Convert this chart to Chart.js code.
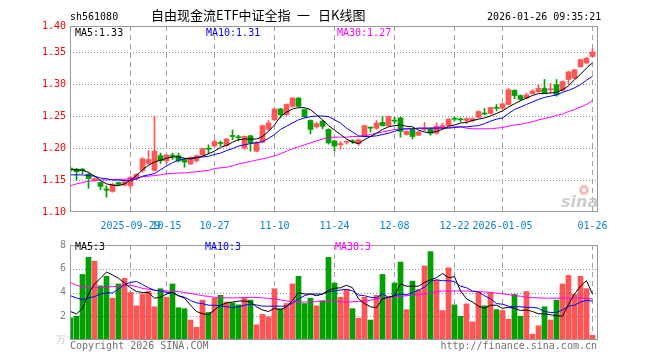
<!DOCTYPE html>
<html><head><meta charset="utf-8">
<script src="https://cdn.jsdelivr.net/npm/chart.js@4.4.1/dist/chart.umd.min.js"></script>
<style>
html,body{margin:0;padding:0;background:#fff;}
#wrap{position:relative;width:660px;height:360px;overflow:hidden;background:#fff;}
canvas{position:absolute;left:0;}
#c1{top:0;}
#c2{top:235px;}
.t{position:absolute;white-space:pre;font-family:"DejaVu Sans Mono",monospace;font-size:10px;line-height:12px;z-index:2;}
.cn{font-family:"Noto Sans CJK SC","Noto Sans",sans-serif;font-size:13px;line-height:16px;color:#000;}
</style></head><body>
<div id="wrap">
<canvas id="c1" width="660" height="235"></canvas>
<canvas id="c2" width="660" height="125"></canvas>
<div class="t" style="left:70px;top:11px;color:#000">sh561080</div>
<div class="t cn" style="left:151px;top:7px;">自由现金流ETF中证全指</div>
<div class="t cn" style="left:297px;top:7px;">一</div>
<div class="t cn" style="left:318px;top:7px;">日K线图</div>
<div class="t" style="left:487px;top:11px;color:#000">2026-01-26 09:35:21</div>
<div class="t" style="left:75px;top:27px;color:#000">MA5:1.33</div>
<div class="t" style="left:206px;top:27px;color:#0000ff">MA10:1.31</div>
<div class="t" style="left:337px;top:27px;color:#ff00ff">MA30:1.27</div>
<div class="t" style="left:75px;top:241px;color:#000">MA5:3</div>
<div class="t" style="left:205px;top:241px;color:#0000ff">MA10:3</div>
<div class="t" style="left:335px;top:241px;color:#ff00ff">MA30:3</div>
<div class="t" style="left:70px;top:340px;color:#707070">Copyright 2026 SINA.COM</div>
<div class="t" style="right:63px;top:340px;color:#707070">http://finance.sina.com.cn</div>
</div>
<script>
// ---- data ----
const open  = [1.168,1.167,1.167,1.159,1.150,1.146,1.136,1.132,1.146,1.142,1.141,1.152,1.165,1.176,1.165,1.188,1.180,1.189,1.188,1.182,1.175,1.180,1.189,1.199,1.203,1.208,1.204,1.219,1.217,1.200,1.219,1.195,1.209,1.229,1.244,1.261,1.252,1.265,1.278,1.260,1.243,1.233,1.242,1.229,1.211,1.205,1.209,1.211,1.207,1.218,1.232,1.231,1.240,1.235,1.243,1.247,1.221,1.229,1.220,1.229,1.230,1.223,1.231,1.235,1.246,1.245,1.243,1.243,1.248,1.254,1.254,1.263,1.262,1.268,1.290,1.282,1.278,1.285,1.288,1.293,1.291,1.299,1.290,1.307,1.309,1.327,1.333,1.343];
const high  = [1.169,1.168,1.168,1.161,1.153,1.147,1.141,1.145,1.147,1.149,1.156,1.160,1.185,1.196,1.250,1.192,1.190,1.192,1.192,1.184,1.186,1.189,1.200,1.205,1.213,1.211,1.215,1.228,1.220,1.219,1.220,1.210,1.236,1.243,1.262,1.262,1.269,1.279,1.279,1.261,1.244,1.240,1.243,1.230,1.212,1.210,1.211,1.213,1.214,1.236,1.233,1.243,1.249,1.250,1.248,1.248,1.227,1.230,1.226,1.240,1.231,1.239,1.239,1.246,1.249,1.247,1.247,1.247,1.258,1.262,1.264,1.268,1.270,1.293,1.291,1.283,1.286,1.291,1.299,1.307,1.301,1.307,1.305,1.320,1.323,1.339,1.342,1.355];
const low   = [1.162,1.150,1.160,1.137,1.148,1.135,1.123,1.131,1.142,1.141,1.137,1.150,1.162,1.174,1.164,1.176,1.176,1.182,1.178,1.170,1.174,1.178,1.188,1.191,1.202,1.203,1.203,1.213,1.211,1.198,1.195,1.194,1.208,1.228,1.243,1.247,1.251,1.264,1.264,1.247,1.222,1.231,1.230,1.206,1.195,1.198,1.206,1.207,1.204,1.217,1.225,1.229,1.234,1.234,1.238,1.217,1.220,1.214,1.219,1.227,1.220,1.222,1.230,1.234,1.242,1.241,1.238,1.241,1.247,1.252,1.253,1.258,1.261,1.267,1.277,1.274,1.277,1.284,1.287,1.285,1.286,1.281,1.289,1.300,1.308,1.326,1.332,1.342];
const close = [1.167,1.163,1.165,1.152,1.152,1.140,1.134,1.143,1.143,1.147,1.154,1.159,1.183,1.182,1.195,1.180,1.189,1.187,1.180,1.178,1.185,1.188,1.199,1.198,1.210,1.207,1.214,1.218,1.216,1.218,1.208,1.209,1.235,1.239,1.261,1.252,1.268,1.278,1.265,1.249,1.229,1.238,1.234,1.208,1.203,1.207,1.210,1.210,1.213,1.235,1.231,1.239,1.235,1.249,1.242,1.226,1.226,1.218,1.225,1.230,1.223,1.234,1.235,1.245,1.245,1.244,1.246,1.246,1.257,1.253,1.263,1.262,1.269,1.291,1.282,1.276,1.283,1.289,1.293,1.286,1.292,1.283,1.304,1.319,1.322,1.338,1.340,1.350];
const ma5   = [1.166,1.166,1.165,1.162,1.156,1.149,1.144,1.142,1.141,1.144,1.150,1.157,1.166,1.173,1.178,1.181,1.184,1.186,1.186,1.184,1.183,1.185,1.187,1.191,1.195,1.201,1.204,1.209,1.213,1.214,1.214,1.214,1.218,1.226,1.236,1.249,1.256,1.261,1.263,1.263,1.260,1.252,1.244,1.235,1.228,1.221,1.214,1.209,1.207,1.213,1.218,1.223,1.229,1.233,1.235,1.236,1.234,1.233,1.228,1.225,1.224,1.226,1.229,1.234,1.236,1.239,1.240,1.243,1.245,1.247,1.250,1.254,1.258,1.264,1.269,1.274,1.278,1.282,1.285,1.285,1.286,1.287,1.291,1.297,1.307,1.315,1.325,1.333];
const ma10  = [1.158,1.158,1.158,1.157,1.156,1.153,1.152,1.150,1.150,1.149,1.149,1.152,1.156,1.158,1.160,1.166,1.172,1.177,1.181,1.183,1.184,1.185,1.186,1.187,1.190,1.192,1.196,1.199,1.203,1.205,1.207,1.208,1.210,1.215,1.221,1.229,1.234,1.239,1.244,1.247,1.249,1.250,1.250,1.249,1.244,1.239,1.231,1.225,1.219,1.218,1.218,1.219,1.221,1.223,1.226,1.229,1.230,1.230,1.231,1.231,1.231,1.231,1.231,1.231,1.232,1.233,1.233,1.234,1.235,1.238,1.242,1.245,1.247,1.254,1.260,1.264,1.268,1.272,1.276,1.279,1.281,1.283,1.287,1.290,1.294,1.299,1.306,1.312];
const ma30  = [1.141,1.144,1.146,1.148,1.149,1.150,1.150,1.151,1.151,1.151,1.152,1.153,1.155,1.156,1.157,1.158,1.160,1.160,1.161,1.161,1.162,1.163,1.164,1.165,1.168,1.169,1.170,1.172,1.175,1.177,1.179,1.181,1.183,1.185,1.188,1.191,1.195,1.199,1.202,1.205,1.208,1.211,1.214,1.216,1.217,1.217,1.217,1.218,1.218,1.219,1.221,1.223,1.225,1.227,1.229,1.229,1.230,1.230,1.231,1.231,1.231,1.232,1.232,1.232,1.233,1.233,1.231,1.230,1.230,1.230,1.230,1.231,1.232,1.234,1.236,1.237,1.239,1.241,1.244,1.246,1.248,1.251,1.253,1.257,1.260,1.264,1.268,1.274];
const volume = [1.87,2.0,5.52,6.96,6.64,4.56,5.36,3.52,4.72,5.2,4.0,2.88,3.87,4.1,2.8,4.32,3.6,4.72,2.72,2.64,1.68,1.07,3.36,2.32,3.52,3.76,3.2,3.12,2.96,3.52,3.36,1.28,2.16,1.95,4.32,2.64,3.07,4.72,5.36,3.07,3.52,2.88,3.3,6.96,4.8,3.6,4.27,2.64,1.84,3.6,1.68,3.76,5.52,3.52,4.8,6.56,2.56,4.96,4.24,6.24,7.44,5.04,2.48,6.08,2.96,2.0,3.04,1.52,4.0,2.88,4.0,2.56,2.48,1.76,3.84,2.0,4.08,0.48,1.2,2.8,1.68,3.36,4.72,5.44,3.84,5.36,4.32,0.4];
const vma5  = [2.4,2.2,2.67,3.87,4.72,5.2,5.73,5.47,5.2,4.8,4.4,4.08,4.0,4.0,3.52,3.6,3.87,4.0,3.73,3.52,2.93,2.4,2.21,2.13,2.53,2.93,3.12,3.2,3.28,3.28,3.2,2.8,2.53,2.4,2.67,2.53,2.8,3.33,4.0,3.87,3.87,3.73,3.87,4.2,4.35,4.4,4.61,4.4,3.47,3.07,2.8,2.72,3.47,3.6,3.73,4.72,4.53,4.53,4.53,4.85,5.07,5.25,5.6,5.25,5.33,4.13,3.47,3.2,2.85,2.67,2.93,2.93,2.67,2.75,2.67,2.48,2.53,2.4,2.21,2.21,2.13,2.05,2.0,3.01,3.87,4.53,5.0,3.87];
const vma10 = [3.73,3.55,3.39,3.55,3.65,3.87,3.97,3.97,4.27,4.67,4.85,4.93,4.67,4.4,4.19,4.13,4.0,4.0,3.73,3.6,3.33,3.12,3.07,2.93,2.93,2.88,2.8,2.75,2.8,2.93,3.01,2.95,2.85,2.85,2.85,2.85,2.85,3.12,3.47,3.73,3.87,3.87,3.87,4.08,4.13,4.21,4.27,4.13,3.79,3.73,3.6,3.55,3.87,3.6,3.73,3.87,3.8,4.0,4.19,4.45,4.93,5.07,4.99,4.99,4.93,4.53,4.4,4.13,4.05,3.73,3.47,3.07,3.01,2.85,2.8,2.8,2.75,2.75,2.67,2.4,2.32,2.32,2.53,2.85,2.93,3.2,3.33,3.28];
const vma30 = [4.85,4.61,4.45,4.4,4.4,4.4,4.45,4.5,4.53,4.57,4.61,4.5,4.35,4.27,4.19,4.16,4.13,4.1,4.08,4.0,3.92,3.83,3.73,3.67,3.6,3.57,3.55,3.55,3.55,3.57,3.6,3.58,3.55,3.5,3.47,3.38,3.28,3.24,3.2,3.2,3.2,3.24,3.28,3.28,3.3,3.2,3.2,3.22,3.25,3.28,3.35,3.47,3.52,3.6,3.64,3.68,3.73,3.78,3.82,3.87,3.95,4.08,4.13,4.13,4.13,4.13,4.12,4.1,4.08,4.05,4.0,3.95,3.9,3.82,3.75,3.68,3.6,3.57,3.55,3.52,3.52,3.52,3.52,3.53,3.55,3.55,3.5,3.47];
const tickIdx = [10,16,24,34,44,54,64,72,87];
const tickLbl = ['2025-09-29','10-15','10-27','11-10','11-24','12-08','12-22','2026-01-05','01-26'];
const priceTicks = [1.10,1.15,1.20,1.25,1.30,1.35];
const priceTickLbl = ['1.10','1.15','1.20','1.25','1.30','1.35','1.40'];
const volTicks = [0,2,4,6,8];
const volTickLbl = ['万','2','4','6','8'];

// ---- drawing ----
const RED = '#ff5555', GREEN = '#00a000';
const up = close.map((c,i)=>c>=open[i]);
const colors = up.map(u=>u?RED:GREEN);
const pts = arr => arr.map((v,i)=>({x:i,y:v}));
const xMin = -1/12, xMax = close.length - 1/12;
const FONT = {family:'DejaVu Sans Mono', size:10};

// grid painted behind the marks (destination-over) from the chart's own scales, then the frame
function makeFrame(name){
  return {
    id: name,
    afterDraw(chart){
      const ctx = chart.ctx, a = chart.chartArea;
      const xs = chart.scales.x, ys = chart.scales.y;
      ctx.save();
      ctx.globalCompositeOperation = 'destination-over';
      ctx.fillStyle = '#a0a0a0';
      for (const v of tickIdx){
        const px = Math.floor(xs.getPixelForValue(v));
        for (let yy = Math.ceil(a.top); yy < a.bottom; yy += 9){
          ctx.fillRect(px, yy, 1, Math.min(5, a.bottom - yy));
        }
      }
      ctx.fillStyle = '#8c8c8c';
      for (const t of ys.ticks){
        if (t.value <= ys.min + 1e-9 || t.value >= ys.max - 1e-9) continue;
        const py = Math.round(ys.getPixelForValue(t.value));
        for (let xx = Math.ceil(a.left); xx < a.right; xx += 3){
          ctx.fillRect(xx, py, 1, 1);
        }
      }
      ctx.globalCompositeOperation = 'source-over';
      ctx.setLineDash([]);
      ctx.strokeStyle = '#999999';
      ctx.lineWidth = 1;
      ctx.strokeRect(a.left+0.5, a.top+0.5, a.right-a.left-1, a.bottom-a.top-1);
      ctx.restore();
    }
  };
}
const mark = {
  id:'sinaMark',
  afterDatasetsDraw(chart){
    const ctx = chart.ctx;
    ctx.save();
    ctx.fillStyle = 'rgba(245,170,170,0.8)';
    ctx.beginPath(); ctx.arc(584,190,5,0,Math.PI*2); ctx.fill();
    ctx.fillStyle = '#ffffff';
    ctx.beginPath(); ctx.arc(584,190,2,0,Math.PI*2); ctx.fill();
    ctx.fillStyle = 'rgba(200,200,200,0.9)';
    ctx.font = 'italic bold 16px "DejaVu Sans"';
    ctx.fillText('sina', 561, 207);
    ctx.restore();
  }
};

const lineDs = (arr,color) => ({type:'line', data:pts(arr), borderColor:color, borderWidth:1, pointRadius:0, tension:0, fill:false, order:0});

const xScale = (showLabels, h) => ({
  type:'linear', min:xMin, max:xMax, offset:false,
  afterBuildTicks: s => { s.ticks = tickIdx.map(v=>({value:v})); },
  afterFit: s => { s.height = h; },
  ticks:{display:showLabels, autoSkip:false, maxRotation:0, padding:8, color:'#0a7fd0', font:FONT,
    callback:v => { const k = tickIdx.indexOf(v); return k>=0 ? tickLbl[k] : ''; }},
  grid:{display:false, drawTicks:false},
  border:{display:false}
});

const pMax = 1.10 + 186/640;
new Chart(document.getElementById('c1'), {
  type:'bar',
  data:{datasets:[
    lineDs(ma5,'#000000'), lineDs(ma10,'#0000ff'), lineDs(ma30,'#ff00ff'),
    {type:'bar', data:close.map((c,i)=>({x:i,y:[low[i],high[i]]})), backgroundColor:colors, barThickness:1, grouped:false, order:2},
    {type:'bar', data:close.map((c,i)=>({x:i,y:[open[i],c]})), backgroundColor:colors, barThickness:5, minBarLength:1, grouped:false, order:1}
  ]},
  options:{
    responsive:false, animation:false, events:[],
    layout:{padding:{left:0,right:62,top:26,bottom:0}},
    plugins:{legend:{display:false}, tooltip:{enabled:false}},
    scales:{
      x: xScale(true, 23),
      y:{type:'linear', min:1.10, max:pMax,
        afterBuildTicks: s => { s.ticks = priceTicks.concat([pMax]).map(v=>({value:v})); },
        afterFit: s => { s.width = 70; },
        ticks:{color:'#ff0000', padding:4, font:FONT, callback:(v,i)=>priceTickLbl[i]},
        grid:{display:false, drawTicks:false},
        border:{display:false}
      }
    }
  },
  plugins:[makeFrame('frameTop'), mark]
});

new Chart(document.getElementById('c2'), {
  type:'bar',
  data:{datasets:[
    lineDs(vma5,'#000000'), lineDs(vma10,'#0000ff'), lineDs(vma30,'#ff00ff'),
    {type:'bar', data:pts(volume), backgroundColor:colors, barThickness:5, grouped:false, order:1}
  ]},
  options:{
    responsive:false, animation:false, events:[],
    layout:{padding:{left:0,right:62,top:5,bottom:0}},
    plugins:{legend:{display:false}, tooltip:{enabled:false}},
    scales:{
      x: xScale(false, 20),
      y:{type:'linear', min:0, max:8,
        afterBuildTicks: s => { s.ticks = volTicks.map(v=>({value:v})); },
        afterFit: s => { s.width = 70; },
        ticks:{color:(c)=> c.index===0 ? '#c8c8c8' : '#808080', padding:4, font:FONT, callback:(v,i)=>volTickLbl[i]},
        grid:{display:false, drawTicks:false},
        border:{display:false}
      }
    }
  },
  plugins:[makeFrame('frameVol')]
});
</script>
</body></html>
